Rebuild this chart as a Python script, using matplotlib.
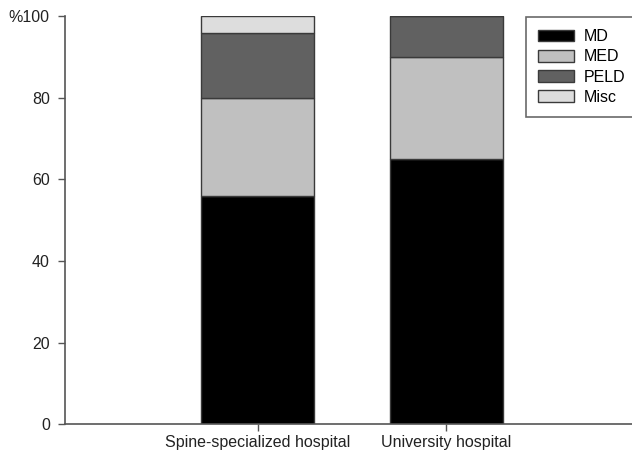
import matplotlib.pyplot as plt
import numpy as np

plt.rcParams['font.family'] = ['Liberation Sans', 'DejaVu Sans']

# Share of each surgical technique by hospital type (%)
hospitals = ["Spine-specialized hospital", "University hospital"]
techniques = ["MD", "MED", "PELD", "Misc"]
md = [56, 65]
med = [24, 25]
peld = [16, 10]
misc = [4, 0]
colors = ["#000000", "#c0c0c0", "#616161", "#dddddd"]
yticks = [0, 20, 40, 60, 80, 100]
ytick_labels = ["0", "20", "40", "60", "80", "%100"]


def plot_shares():
    fig = plt.figure(figsize=(6.32, 4.63), dpi=100)
    ax = fig.add_axes([0.103, 0.084, 0.897, 0.881])

    x = np.arange(len(hospitals))
    bottom = np.zeros(len(hospitals))
    for name, vals, col in zip(techniques, [md, med, peld, misc], colors):
        vals = np.array(vals, dtype=float)
        ax.bar(x, vals, width=0.6, bottom=bottom, color=col, edgecolor="#3a3a3a",
               linewidth=1.0, label=name)
        bottom += vals

    ax.set_xlim(-1.02, 1.985)
    ax.set_ylim(0, 100)
    ax.set_xticks(x)
    ax.set_xticklabels(hospitals, fontsize=11.5)
    ax.set_yticks(yticks)
    ax.set_yticklabels(ytick_labels, fontsize=11.5)

    for side in ["top", "right"]:
        ax.spines[side].set_visible(False)
    for side in ["left", "bottom"]:
        ax.spines[side].set_color("#555555")
        ax.spines[side].set_linewidth(1.2)
    ax.tick_params(axis="both", direction="out", length=5, width=1.0,
                   color="#555555", labelcolor="#222222", pad=6)
    ax.tick_params(axis="x", pad=3)

    leg = ax.legend(loc="upper right", bbox_to_anchor=(1.01, 0.998), fontsize=11.5,
                    frameon=True, fancybox=False, handlelength=2.3, handleheight=0.75,
                    handletextpad=0.6, labelspacing=0.33, borderpad=0.75,
                    borderaxespad=0.0)
    leg.get_frame().set_edgecolor("#444444")
    leg.get_frame().set_linewidth(1.2)

    fig.savefig("out.png", dpi=100)


if __name__ == '__main__':
    plot_shares()
